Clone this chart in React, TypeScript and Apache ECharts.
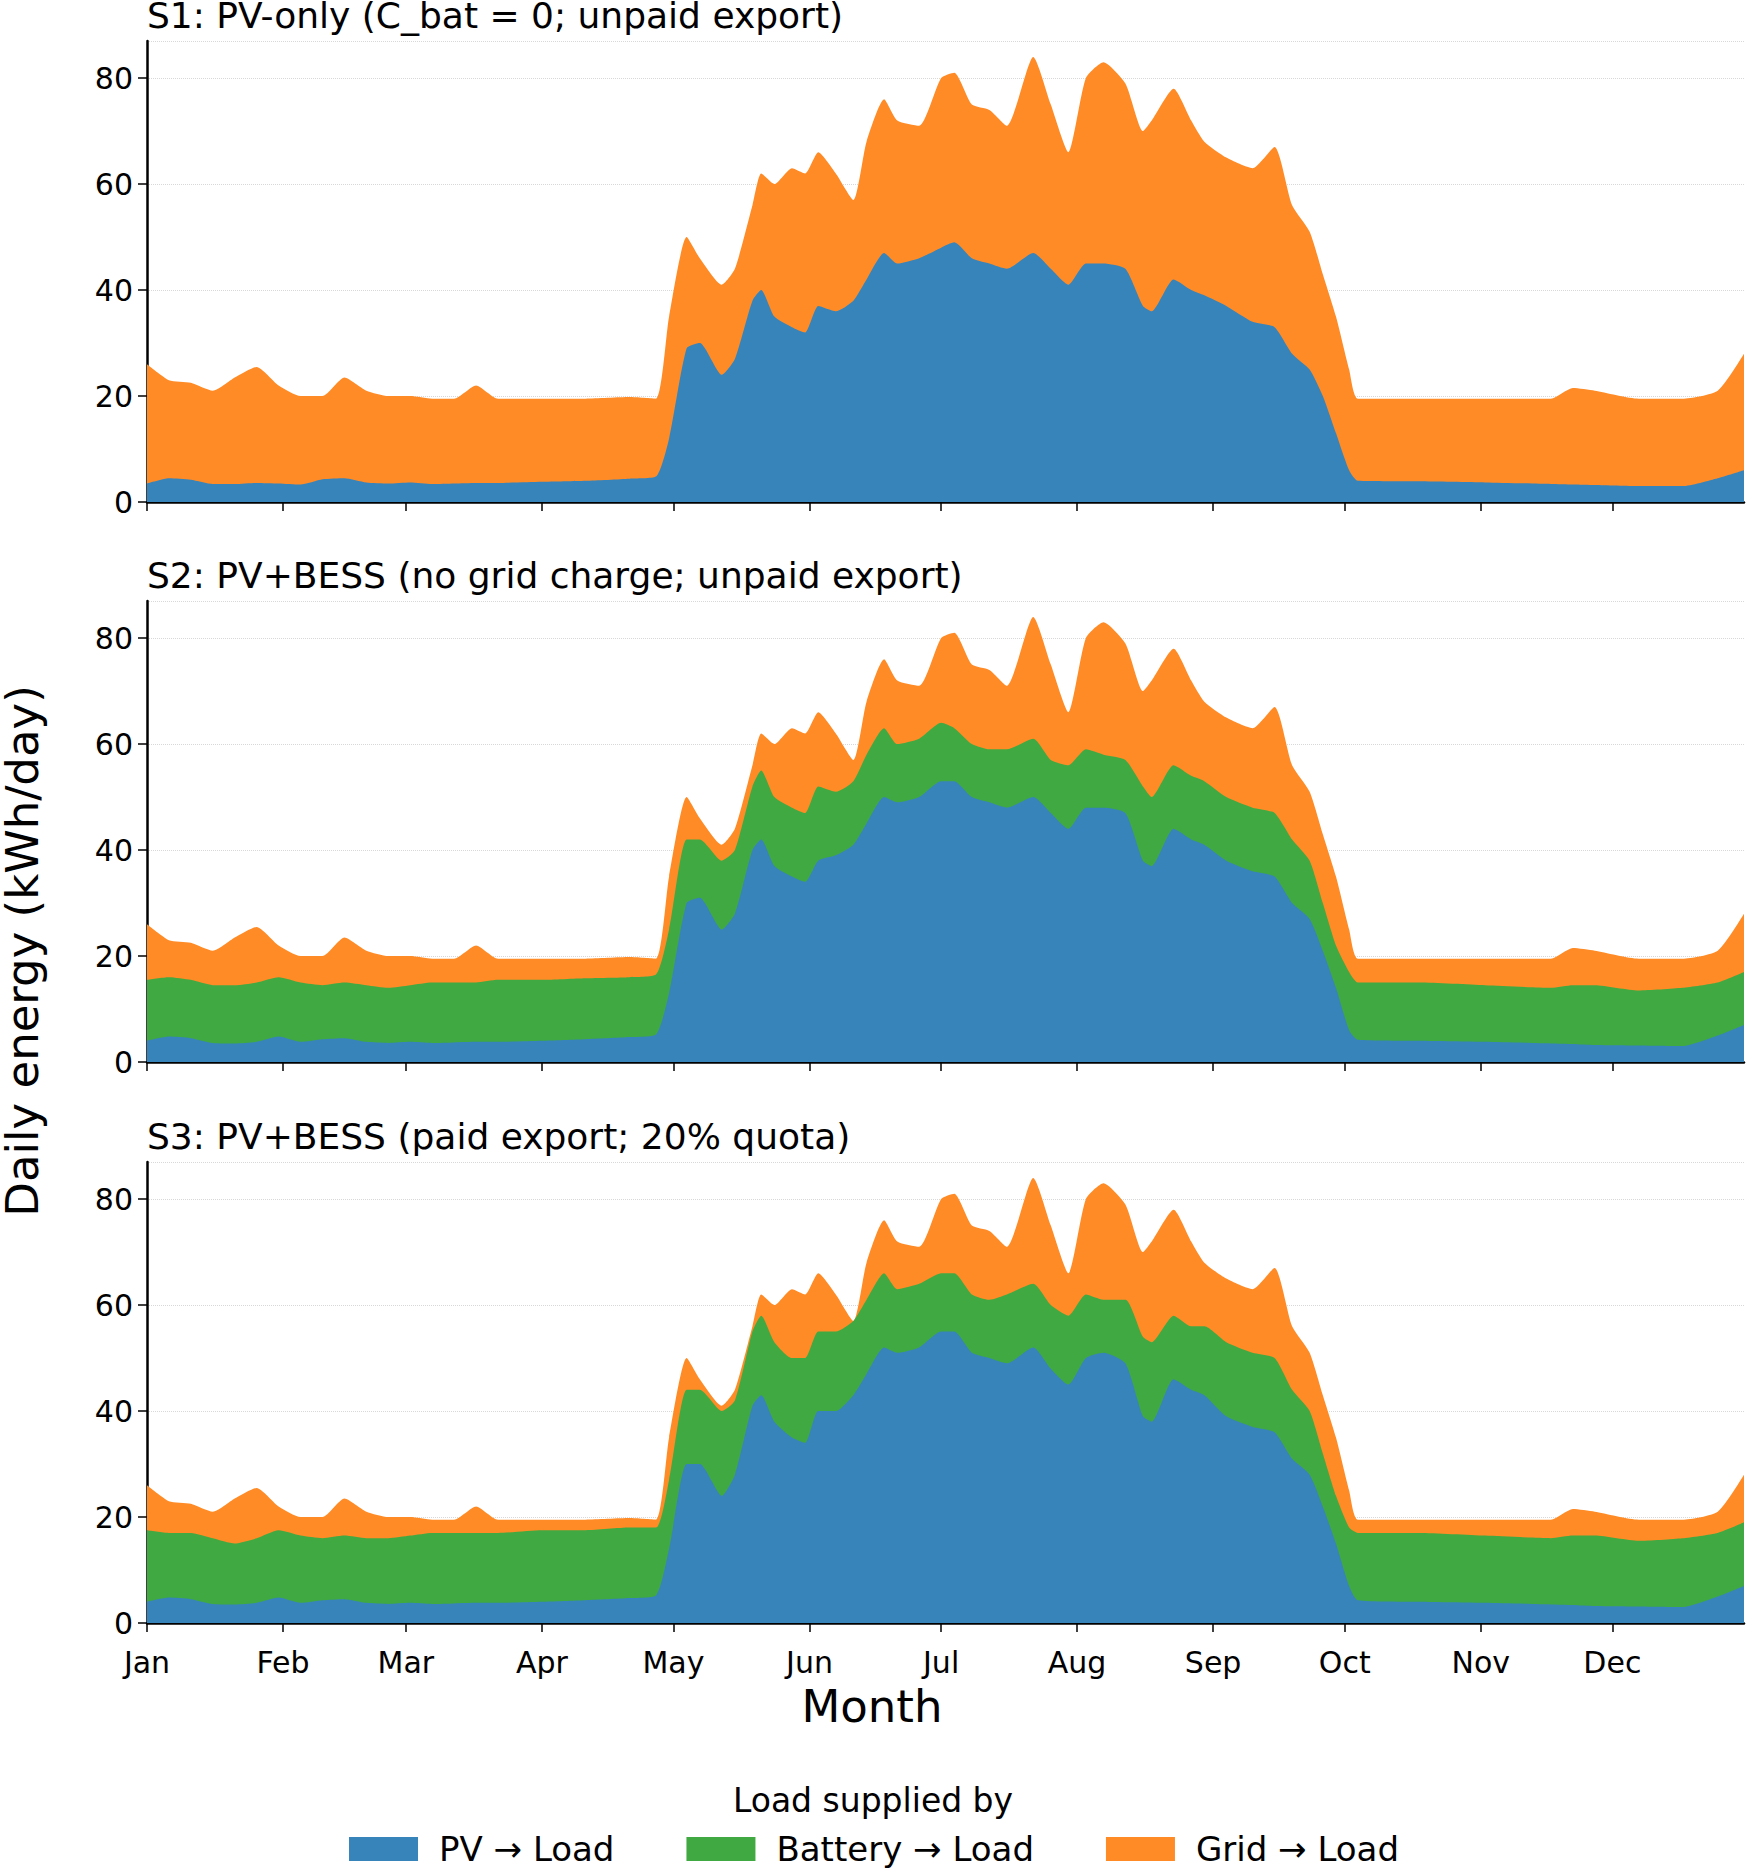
import * as echarts from "echarts";
import { useEffect, useRef } from "react";

// day-of-year sample points
const days = [
  0, 5, 10, 15, 20, 25, 30, 35, 40, 45,
  50, 55, 60, 65, 70, 75, 80, 90, 100, 110,
  116, 119, 123, 126, 131, 134, 138, 140, 143, 147,
  150, 153, 157, 161, 164, 168, 171, 176, 181, 184,
  188, 192, 196, 202, 206, 210, 214, 218, 223, 227,
  229, 234, 238, 241, 246, 252, 257, 261, 265, 268,
  271, 274, 276, 290, 305, 320, 325, 330, 340, 350,
  358, 364,
];

// total daily load (top of stack, same in all scenarios)
const totalLoad = [
  26, 23, 22.5, 21, 23.5, 25.5, 22, 20, 20, 23.5,
  21, 20, 20, 19.5, 19.5, 22, 19.5, 19.5, 19.5, 19.8,
  19.5, 35, 50, 46, 41, 44, 56, 62, 60, 63,
  62, 66, 62, 57, 68, 76, 72, 71, 80, 81,
  75, 74, 71, 84, 75, 66, 80, 83, 79, 70,
  72, 78, 72, 68, 65, 63, 67, 56, 51, 43,
  35, 25, 19.5, 19.5, 19.5, 19.5, 21.5, 21, 19.5, 19.5,
  21, 28,
];

// S1 PV -> Load
const pvS1 = [
  3.5, 4.5, 4.2, 3.4, 3.4, 3.6, 3.5, 3.3, 4.3, 4.5,
  3.7, 3.5, 3.7, 3.4, 3.5, 3.6, 3.6, 3.8, 4.0, 4.4,
  4.8, 12, 29, 30, 24, 27, 38, 40, 35, 33,
  32, 37, 36, 38, 42, 47, 45, 46, 48, 49,
  46, 45, 44, 47, 44, 41, 45, 45, 44, 37,
  36, 42, 40, 39, 37, 34, 33, 28, 25, 20,
  13, 6, 4, 3.9, 3.7, 3.4, 3.3, 3.2, 3.0, 3.0,
  4.5, 6,
];

// S2 PV -> Load and top of the battery band
const pvS2 = [
  4, 4.8, 4.5, 3.6, 3.5, 3.8, 4.8, 3.8, 4.3, 4.5,
  3.8, 3.6, 3.8, 3.6, 3.7, 3.8, 3.8, 4, 4.3, 4.7,
  5.2, 13, 30, 31, 25, 28, 40, 42, 37, 35,
  34, 38, 39, 41, 45, 50, 49, 50, 53, 53,
  50, 49, 48, 50, 47, 44, 48, 48, 47, 38,
  37, 44, 42, 41, 38, 36, 35, 30, 27, 21,
  14, 6, 4.2, 4.0, 3.8, 3.5, 3.4, 3.2, 3.1, 3.0,
  5, 7,
];
const batTopS2 = [
  15.5, 16, 15.5, 14.5, 14.5, 15, 16, 15, 14.5, 15,
  14.5, 14, 14.5, 15, 15, 15, 15.5, 15.5, 15.8, 16,
  16.5, 25, 42, 42, 38, 40, 52, 55, 50, 48,
  47, 52, 51, 53, 58, 63, 60, 61, 64, 63,
  60, 59, 59, 61, 57, 56, 59, 58, 57, 52,
  50, 56, 54, 53, 50, 48, 47, 42, 38, 30,
  22, 17, 15, 15, 14.5, 14, 14.5, 14.5, 13.5, 14,
  15, 17,
];

// S3 PV -> Load and top of the battery band
const pvS3 = [
  4, 4.8, 4.5, 3.6, 3.5, 3.8, 4.8, 3.8, 4.3, 4.5,
  3.8, 3.6, 3.8, 3.6, 3.7, 3.8, 3.8, 4, 4.3, 4.7,
  5.2, 14, 30, 30, 24, 28, 41, 43, 38, 35,
  34, 40, 40, 43, 47, 52, 51, 52, 55, 55,
  51, 50, 49, 52, 48, 45, 50, 51, 49, 39,
  38, 46, 44, 43, 39, 37, 36, 31, 28, 22,
  15, 7, 4.3, 4.0, 3.8, 3.5, 3.4, 3.2, 3.1, 3.0,
  5, 7,
];
const batTopS3 = [
  17.5, 17, 17, 16, 15, 16, 17.5, 16.5, 16, 16.5,
  16, 16, 16.5, 17, 17, 17, 17, 17.5, 17.5, 18,
  18, 27, 44, 44, 40, 42, 55, 58, 53, 50,
  50, 55, 55, 57, 61, 66, 63, 64, 66, 66,
  62, 61, 62, 64, 60, 58, 62, 61, 61, 54,
  53, 58, 56, 56, 53, 51, 50, 44, 40, 32,
  24, 18, 17, 17, 16.5, 16, 16.5, 16.5, 15.5, 16,
  17, 19,
];

const monthStarts = [0, 31, 59, 90, 120, 151, 181, 212, 243, 273, 304, 334];
const monthNames = ["Jan", "Feb", "Mar", "Apr", "May", "Jun", "Jul", "Aug", "Sep", "Oct", "Nov", "Dec"];

const titles = [
  "S1: PV-only (C_bat = 0; unpaid export)",
  "S2: PV+BESS (no grid charge; unpaid export)",
  "S3: PV+BESS (paid export; 20% quota)",
];

const BLUE = "#3784bb";
const GREEN = "#41a941";
const ORANGE = "#ff8b26";
const FONT = "DejaVu Sans";

export default function App() {
  const ref = useRef<HTMLDivElement>(null);

  useEffect(() => {
    if (!ref.current) return;
    const chart = echarts.init(ref.current, undefined, { renderer: "svg" });

    const panels = [
      { pv: pvS1, bat: null as number[] | null },
      { pv: pvS2, bat: batTopS2 },
      { pv: pvS3, bat: batTopS3 },
    ];
    const tops = [41, 601, 1162];
    const H = 461;

    const grids = tops.map((t) => ({ left: 147, right: 4, top: t, height: H }));
    const xAxes = tops.map((_, i) => ({
      type: "value",
      gridIndex: i,
      min: 0,
      max: 364,
      axisLine: { show: true, onZero: false, lineStyle: { color: "#000", width: 2.5 } },
      axisTick: { show: true, length: 9, lineStyle: { color: "#000", width: 1.5 }, customValues: monthStarts },
      axisLabel: {
        show: i === 2,
        customValues: monthStarts,
        fontSize: 30,
        fontFamily: FONT,
        color: "#000",
        margin: 24,
        formatter: (v: number) => monthNames[monthStarts.indexOf(v)] ?? "",
      },
      splitLine: { show: false },
    }));
    const yAxes = tops.map((_, i) => ({
      type: "value",
      gridIndex: i,
      min: 0,
      max: 87,
      interval: 20,
      axisLine: { show: true, lineStyle: { color: "#000", width: 2.5 } },
      axisTick: { show: true, length: 9, lineStyle: { color: "#000", width: 1.5 } },
      axisLabel: { fontSize: 30, fontFamily: FONT, color: "#000", margin: 14, showMaxLabel: false },
      splitLine: { show: true, lineStyle: { color: "#d8d8d8", type: "dotted", width: 1 } },
    }));

    // layered areas drawn back to front: total (grid), battery top, PV
    const series: any[] = [];
    panels.forEach((p, i) => {
      const common = {
        type: "line",
        xAxisIndex: i,
        yAxisIndex: i,
        symbol: "none",
        lineStyle: { width: 0 },
        smooth: 0.2,
      };
      series.push({ ...common, name: "Grid → Load", z: 1, data: days.map((d, k) => [d, totalLoad[k]]), itemStyle: { color: ORANGE }, areaStyle: { color: ORANGE, opacity: 1 } });
      if (p.bat) {
        const bat = p.bat;
        series.push({ ...common, name: "Battery → Load", z: 2, data: days.map((d, k) => [d, bat[k]]), itemStyle: { color: GREEN }, areaStyle: { color: GREEN, opacity: 1 } });
      } else {
        series.push({ ...common, name: "Battery → Load", z: 2, data: [], itemStyle: { color: GREEN } });
      }
      series.push({ ...common, name: "PV → Load", z: 3, data: days.map((d, k) => [d, p.pv[k]]), itemStyle: { color: BLUE }, areaStyle: { color: BLUE, opacity: 1 } });
    });

    chart.setOption({
      animation: false,
      backgroundColor: "#fff",
      grid: grids,
      xAxis: xAxes,
      yAxis: yAxes,
      series,
      legend: {
        data: ["PV → Load", "Battery → Load", "Grid → Load"],
        bottom: 0,
        left: "center",
        icon: "rect",
        itemWidth: 69,
        itemHeight: 24,
        itemGap: 72,
        textStyle: { fontSize: 34, fontFamily: FONT, color: "#000", padding: [0, 0, 0, 16] },
      },
      graphic: [
        ...titles.map((t, i) => ({
          type: "text",
          left: 147,
          top: tops[i] - 44,
          style: { text: t, font: `36px "${FONT}"`, fill: "#000" },
        })),
        {
          type: "text",
          x: 22,
          y: 951,
          rotation: Math.PI / 2,
          style: { text: "Daily energy (kWh/day)", font: `45px "${FONT}"`, fill: "#000", align: "center", verticalAlign: "middle" },
        },
        {
          type: "text",
          x: 872,
          y: 1706,
          style: { text: "Month", font: `45px "${FONT}"`, fill: "#000", align: "center", verticalAlign: "middle" },
        },
        {
          type: "text",
          x: 873,
          y: 1800,
          style: { text: "Load supplied by", font: `33px "${FONT}"`, fill: "#000", align: "center", verticalAlign: "middle" },
        },
      ],
    });

    return () => chart.dispose();
  }, []);

  return <div ref={ref} style={{ position: "absolute", left: 0, top: 0, width: 1748, height: 1871 }} />;
}
